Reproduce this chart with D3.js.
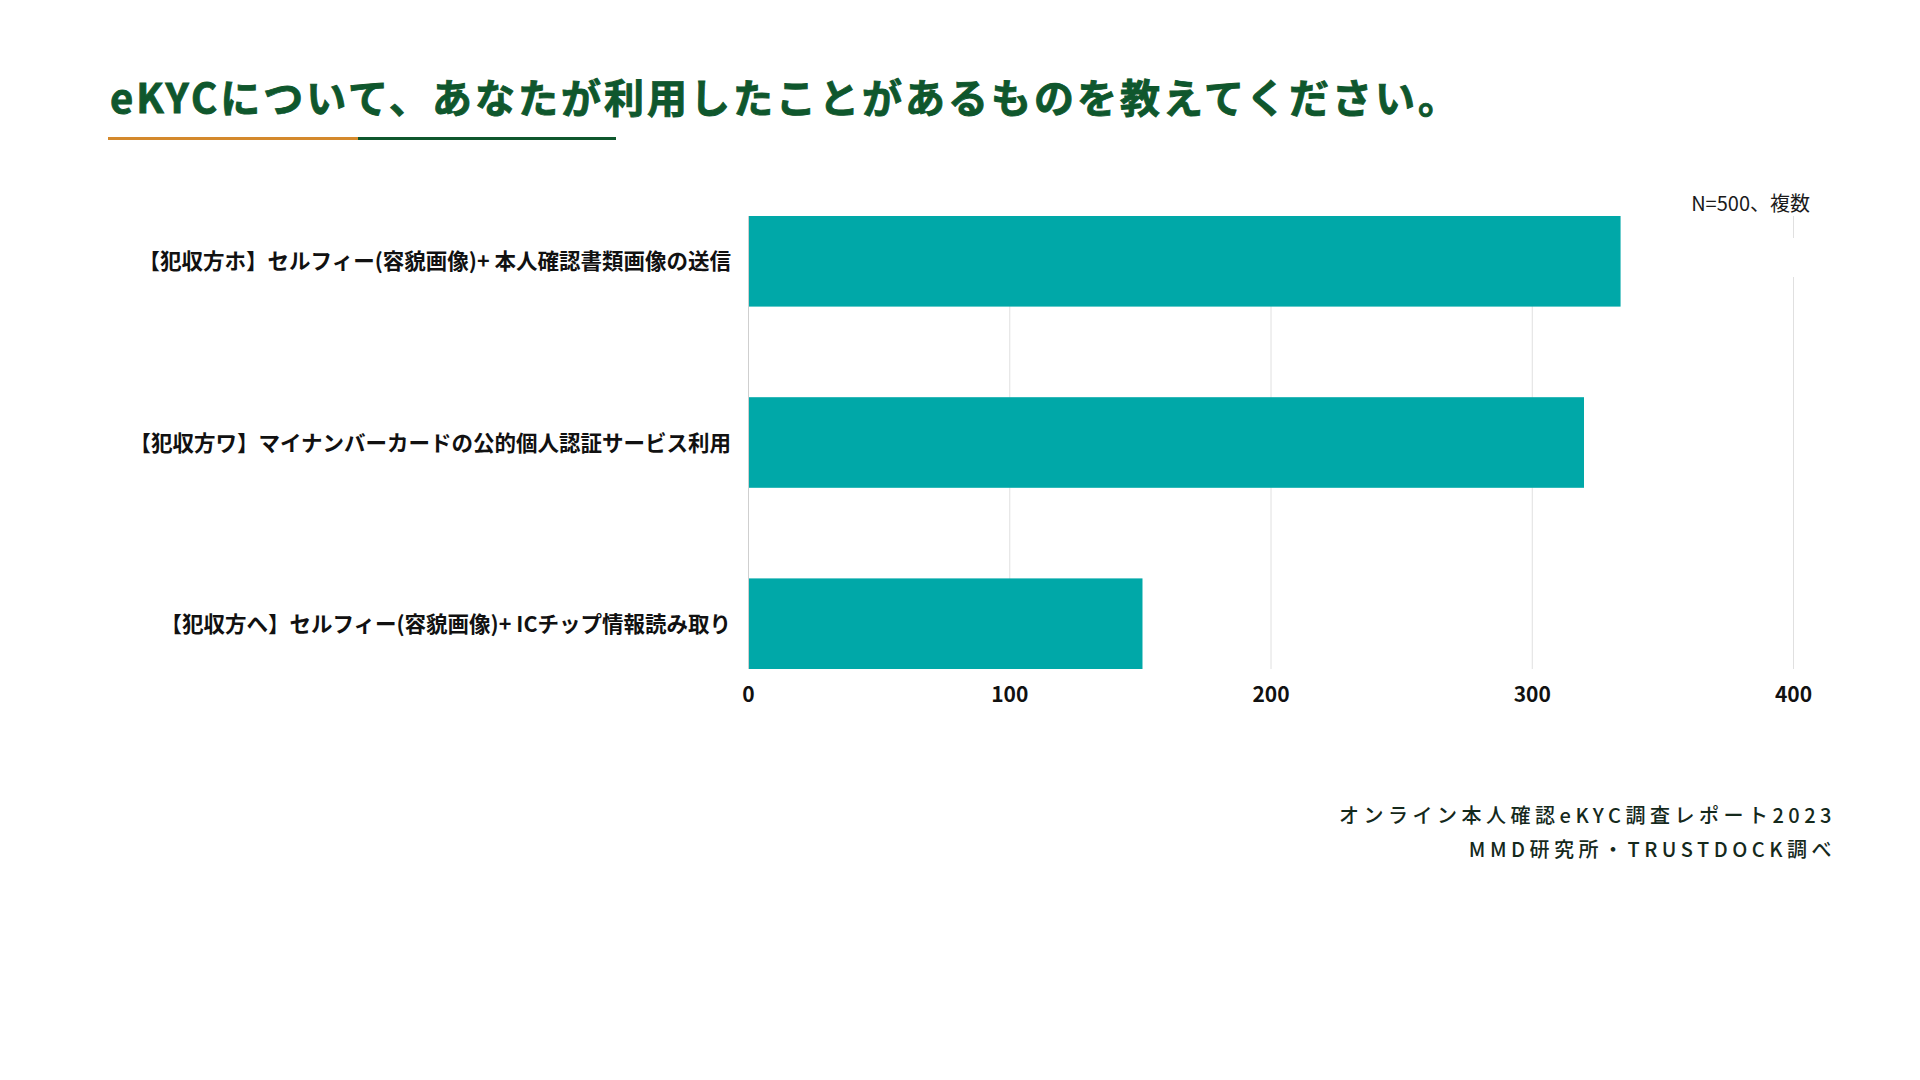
<!DOCTYPE html>
<html lang="ja">
<head>
<meta charset="UTF-8">
<title>eKYC利用経験</title>
<script src="https://cdn.jsdelivr.net/npm/d3@7"></script>
<style>
  html, body { margin: 0; padding: 0; background: #fff; }
  svg { display: block; font-family: "Noto Sans CJK JP", "Noto Sans", sans-serif; }
</style>
</head>
<body>
<div id="chart"></div>
<script>
// データ
const categories = [
  "【犯収方ホ】セルフィー(容貌画像)+ 本人確認書類画像の送信",
  "【犯収方ワ】マイナンバーカードの公的個人認証サービス利用",
  "【犯収方へ】セルフィー(容貌画像)+ ICチップ情報読み取り"
];
const values = [334, 320, 151];
const xTicks = [0, 100, 200, 300, 400];
const title = "eKYCについて、あなたが利用したことがあるものを教えてください。";
const note = "N=500、複数";
const sourceLines = ["オンライン本人確認eKYC調査レポート2023", "MMD研究所・TRUSTDOCK調べ"];

const W = 1920, H = 1080;
const barColor = "#00a8a8";
const green = "#0f572d";

const svg = d3.select("#chart").append("svg")
  .attr("width", W).attr("height", H);

// タイトル（太めに見せるため同色の細い縁取り）
svg.append("text")
  .attr("x", 110).attr("y", 113)
  .attr("fill", green)
  .attr("stroke", green)
  .attr("stroke-width", 0.9)
  .style("font-size", "40px")
  .style("font-weight", 700)
  .style("letter-spacing", "3px")
  .text(title);

// 下線（オレンジ＋緑）
svg.append("rect").attr("x", 108).attr("y", 137).attr("width", 250).attr("height", 3).attr("fill", "#d4892c");
svg.append("rect").attr("x", 358).attr("y", 137).attr("width", 258).attr("height", 3).attr("fill", green);

// スケール
const x = d3.scaleLinear().domain([0, 400]).range([748, 1793]);
const y = d3.scaleBand().domain(categories).range([216, 669]).paddingInner(0.5).paddingOuter(0);

// グリッド線
svg.append("g")
  .selectAll("line")
  .data(xTicks)
  .join("line")
    .attr("x1", d => x(d) + 0.5).attr("x2", d => x(d) + 0.5)
    .attr("y1", y.range()[0]).attr("y2", y.range()[1])
    .attr("stroke", d => d === 0 ? "#cfcfcf" : "#e0e0e0")
    .attr("stroke-width", 1);

// N=500 ラベル下の白い切れ目
svg.append("rect")
  .attr("x", x(400) - 4).attr("y", y.range()[0] + 22)
  .attr("width", 8).attr("height", 39)
  .attr("fill", "#fff");

// バー
svg.append("g")
  .selectAll("rect")
  .data(values)
  .join("rect")
    .attr("x", x(0) + 1)
    .attr("y", (d, i) => y(categories[i]))
    .attr("width", d => x(d) - x(0) - 1)
    .attr("height", y.bandwidth())
    .attr("fill", barColor);

// X軸
const xAxis = d3.axisBottom(x).tickValues(xTicks).tickSize(0).tickPadding(0);
const gx = svg.append("g")
  .attr("transform", `translate(0, ${y.range()[1]})`)
  .call(xAxis);
gx.select(".domain").remove();
gx.selectAll("text")
  .attr("dy", 0).attr("y", 33)
  .attr("fill", "#111")
  .style("font-family", "'Noto Sans CJK JP', sans-serif")
  .style("font-size", "21px")
  .style("font-weight", 700);

// Y軸（カテゴリラベル）
const yAxis = d3.axisLeft(y).tickSize(0).tickPadding(0);
const gy = svg.append("g")
  .attr("transform", `translate(731, 0)`)
  .call(yAxis);
gy.select(".domain").remove();
gy.selectAll("text")
  .attr("dy", "0.38em")
  .attr("fill", "#111")
  .style("font-family", "'Noto Sans CJK JP', sans-serif")
  .style("font-size", "21.5px")
  .style("font-weight", 700);

// 注記
svg.append("text")
  .attr("x", 1810).attr("y", 211)
  .attr("text-anchor", "end")
  .attr("fill", "#1a1a1a")
  .style("font-size", "20px")
  .text(note);

// 出典
svg.append("g")
  .selectAll("text")
  .data(sourceLines)
  .join("text")
    .attr("x", 1836)
    .attr("y", (d, i) => 823 + i * 34)
    .attr("text-anchor", "end")
    .attr("fill", "#15291c")
    .style("font-size", "20px")
    .style("font-weight", 500)
    .style("letter-spacing", "4.5px")
    .text(d => d);
</script>
</body>
</html>
